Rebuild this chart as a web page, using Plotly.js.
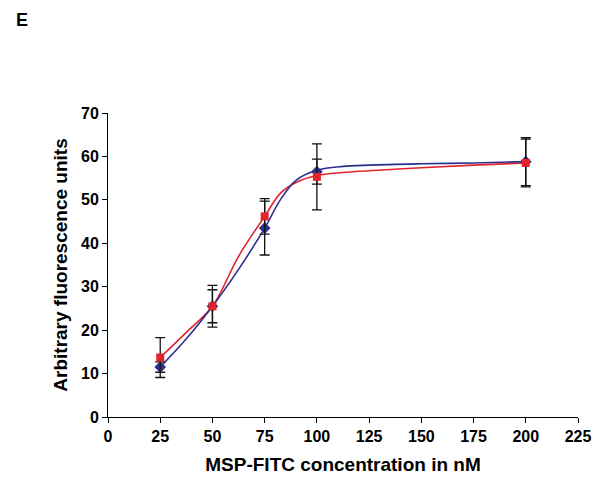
<!DOCTYPE html>
<html>
<head>
<meta charset="utf-8">
<script src="https://cdn.plot.ly/plotly-3.0.1.min.js"></script>
<style>body{margin:0;background:#fff;} #chart{width:601px;height:479px;}</style>
</head>
<body>
<div id="chart"></div>
<script>
// Measured points
const conc = [25, 50, 75, 100, 200];
const blueVals = [11.5, 25.5, 43.5, 56.5, 58.8];
const blueErr = [1.2, 4.8, 6.2, 2.9, 5.5];
const redVals = [13.7, 25.5, 46.2, 55.3, 58.5];
const redErr = [4.6, 3.8, 4.1, 7.6, 5.5];

// Fitted curves
const curveX = [25, 37.5, 50, 62.5, 75, 82.5, 90, 100, 112.5, 125, 150, 175, 200];
const blueCurve = [11.5, 18, 25.5, 34, 43.5, 50, 54.5, 56.8, 57.7, 58.0, 58.3, 58.5, 58.8];
const redCurve = [13.7, 19.5, 25.5, 37, 46.2, 51.5, 54, 55.6, 56.3, 56.7, 57.4, 58.0, 58.5];

const xTicks = [0, 25, 50, 75, 100, 125, 150, 175, 200, 225];
const yTicks = [0, 10, 20, 30, 40, 50, 60, 70];

const blue = '#2b2f8f';
const red = '#e2232b';
const fontFam = '"Liberation Sans", Arial, sans-serif';

const traces = [
  {x: curveX, y: redCurve, mode: 'lines', line: {color: red, width: 1.6, shape: 'spline', smoothing: 1}, hoverinfo: 'skip'},
  {x: curveX, y: blueCurve, mode: 'lines', line: {color: blue, width: 1.6, shape: 'spline', smoothing: 1}, hoverinfo: 'skip'},
  {x: conc, y: blueVals, mode: 'markers', marker: {symbol: 'diamond', size: 9, color: blue},
   error_y: {type: 'data', array: blueErr, visible: true, color: '#111', thickness: 1.3, width: 5}},
  {x: conc, y: redVals, mode: 'markers', marker: {symbol: 'square', size: 8, color: red},
   error_y: {type: 'data', array: redErr, visible: true, color: '#111', thickness: 1.3, width: 5}}
];

const layout = {
  width: 601, height: 479,
  margin: {l: 108, r: 23, t: 113, b: 62},
  paper_bgcolor: '#fff', plot_bgcolor: '#fff',
  showlegend: false,
  font: {family: fontFam, color: '#000'},
  xaxis: {
    range: [0, 225], tickvals: xTicks, ticktext: xTicks.map(String),
    showgrid: false, zeroline: false, showline: true, linecolor: '#000', linewidth: 1,
    ticks: 'outside', ticklen: 5, tickcolor: '#000', tickwidth: 1,
    tickfont: {size: 16, weight: 'bold', family: fontFam},
    title: {text: 'MSP-FITC concentration in nM', font: {size: 19, weight: 'bold', family: fontFam}, standoff: 13}
  },
  yaxis: {
    range: [0, 70], tickvals: yTicks, ticktext: yTicks.map(String),
    showgrid: false, zeroline: false, showline: true, linecolor: '#000', linewidth: 1,
    ticks: 'outside', ticklen: 5, tickcolor: '#000', tickwidth: 1,
    tickfont: {size: 16, weight: 'bold', family: fontFam},
    title: {text: 'Arbitrary fluorescence units', font: {size: 19, weight: 'bold', family: fontFam}, standoff: 8}
  },
  annotations: [
    {text: 'E', xref: 'paper', yref: 'paper', x: -0.2, y: 1.345, xanchor: 'left', yanchor: 'top',
     showarrow: false, font: {size: 18, weight: 'bold', family: fontFam}}
  ]
};

Plotly.newPlot('chart', traces, layout, {staticPlot: true, displayModeBar: false});
</script>
</body>
</html>
